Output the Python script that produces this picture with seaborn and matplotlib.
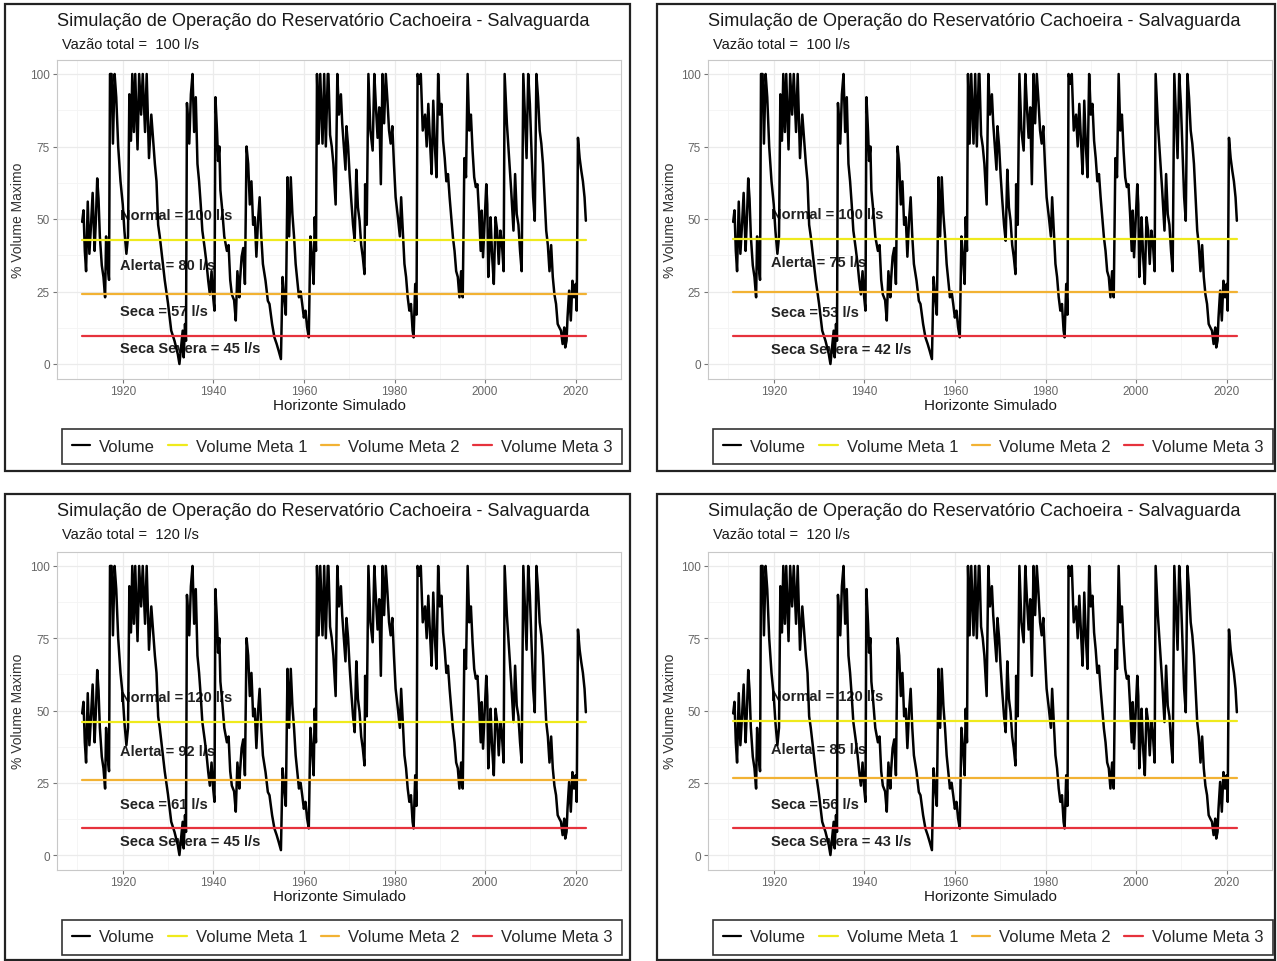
import matplotlib
matplotlib.use("Agg")
import matplotlib.pyplot as plt
from matplotlib.lines import Line2D
from matplotlib.patches import Rectangle
import pandas as pd
import seaborn as sns

# Serie simulada de volume (% do volume maximo)
anos = [
    1911.04, 1911.33, 1911.62, 1911.90, 1912.27, 1912.63, 1912.99, 1913.35, 1913.78, 1914.07,
    1914.36, 1914.65, 1914.94, 1915.37, 1915.74, 1916.10, 1916.32, 1916.68, 1916.97, 1917.18,
    1917.54, 1917.83, 1918.20, 1918.56, 1918.99, 1919.50, 1920.00, 1920.36, 1920.80, 1921.16,
    1921.45, 1921.81, 1922.10, 1922.46, 1922.75, 1923.26, 1923.62, 1924.05, 1924.41, 1924.92,
    1925.28, 1925.79, 1926.30, 1927.09, 1927.45, 1927.81, 1928.17, 1928.53, 1929.26, 1929.98,
    1930.70, 1931.42, 1932.15, 1932.51, 1932.87, 1933.23, 1933.45, 1933.74, 1933.96, 1934.17,
    1934.68, 1935.04, 1935.40, 1935.76, 1936.12, 1936.49, 1936.85, 1937.21, 1937.57, 1938.08,
    1938.51, 1938.87, 1939.23, 1939.60, 1939.96, 1940.25, 1940.46, 1940.82, 1941.04, 1941.33,
    1941.55, 1941.91, 1942.41, 1942.99, 1943.36, 1943.72, 1944.08, 1944.58, 1944.95, 1945.31,
    1945.74, 1945.88, 1946.24, 1946.60, 1946.97, 1947.33, 1947.69, 1948.05, 1948.41, 1948.78,
    1949.14, 1949.50, 1949.86, 1950.22, 1950.58, 1950.94, 1951.52, 1952.03, 1952.39, 1952.97,
    1953.48, 1953.98, 1954.41, 1954.92, 1955.28, 1955.64, 1956.00, 1956.37, 1956.73, 1957.09,
    1957.45, 1957.81, 1958.17, 1958.54, 1958.90, 1959.26, 1959.62, 1959.98, 1960.34, 1960.70,
    1961.07, 1961.43, 1961.79, 1962.15, 1962.37, 1962.66, 1962.88, 1963.24, 1963.60, 1964.10,
    1964.47, 1964.83, 1965.26, 1965.41, 1965.77, 1966.14, 1966.50, 1967.00, 1967.37, 1967.73,
    1968.16, 1968.45, 1968.81, 1969.17, 1969.39, 1969.75, 1970.11, 1970.47, 1970.84, 1971.20,
    1971.56, 1971.92, 1972.28, 1972.64, 1973.00, 1973.37, 1973.51, 1973.87, 1974.23, 1974.67,
    1975.17, 1975.54, 1975.90, 1976.26, 1976.62, 1976.98, 1977.34, 1977.70, 1978.07, 1978.43,
    1978.79, 1979.15, 1979.51, 1979.87, 1980.24, 1980.74, 1981.18, 1981.46, 1981.90, 1982.19,
    1982.55, 1982.91, 1983.27, 1983.63, 1983.99, 1984.21, 1984.57, 1984.85, 1985.08, 1985.51,
    1985.80, 1986.23, 1986.74, 1987.10, 1987.46, 1987.82, 1988.19, 1988.55, 1988.91, 1989.27,
    1989.63, 1989.99, 1990.36, 1990.72, 1991.08, 1991.44, 1991.80, 1992.16, 1992.53, 1992.89,
    1993.25, 1993.61, 1993.97, 1994.33, 1994.70, 1995.06, 1995.42, 1995.78, 1996.14, 1996.50,
    1996.86, 1997.23, 1997.59, 1997.95, 1998.31, 1998.67, 1999.03, 1999.25, 1999.54, 1999.97,
    2000.26, 2000.48, 2000.70, 2000.98, 2001.20, 2001.56, 2001.92, 2002.29, 2002.65, 2003.01,
    2003.37, 2003.73, 2004.09, 2004.31, 2004.81, 2005.18, 2005.75, 2006.26, 2006.62, 2006.98,
    2007.35, 2007.71, 2008.07, 2008.43, 2008.79, 2009.15, 2009.51, 2009.88, 2010.24, 2010.60,
    2010.96, 2011.32, 2011.68, 2012.05, 2012.41, 2012.77, 2013.13, 2013.49, 2013.85, 2014.21,
    2014.58, 2014.94, 2015.30, 2015.66, 2016.02, 2016.38, 2016.75, 2017.11, 2017.47, 2017.69,
    2017.98, 2018.19, 2018.55, 2018.92, 2019.28, 2019.64, 2020.00, 2020.22, 2020.50, 2020.87,
    2021.23, 2021.59, 2021.95, 2022.24,
]
volume = [
    49, 53, 39, 32, 56, 38, 48, 59, 39, 50,
    64, 57, 44, 34, 30, 23, 44, 34, 29, 100,
    100, 76, 100, 92, 75, 63, 55, 46, 38, 44,
    93, 77, 100, 80, 100, 74, 100, 86, 100, 80,
    100, 71, 86, 69, 63, 48, 44, 39, 29, 21,
    11.5, 8, 3.4, 0, 5.7, 11.5, 2.3, 13.8, 8, 90,
    76, 93, 100, 80, 92, 69, 63, 55, 46, 40,
    34.5, 28.7, 24, 32, 23, 18.4, 92, 80, 70, 75,
    60, 54, 44, 39, 41, 29, 24, 22, 15, 32,
    23, 28.7, 37, 40, 27.6, 75, 69, 55, 63, 48,
    50.6, 37, 49.4, 57.5, 44, 34.5, 28.7, 21.8, 20.7, 13.8,
    9.2, 6.9, 4.6, 1.7, 30, 23, 17, 64.4, 44, 64.4,
    51.7, 44, 34.5, 28.7, 23, 25, 20.7, 16, 18.4, 12.6,
    9.2, 44, 36.8, 27.6, 50.6, 39, 100, 76, 100, 76,
    100, 75, 100, 100, 79, 75, 69, 55, 100, 86,
    93, 83, 75, 67, 82, 75, 64.4, 56, 48, 42.5,
    67, 54, 49.4, 41, 36.8, 31, 62, 48, 100, 80.5,
    73.6, 100, 88.5, 78, 88.5, 62, 100, 83, 100, 91,
    80.5, 76, 82, 69, 57.5, 50.6, 44, 57.5, 44, 34.5,
    30, 23, 18.4, 20.7, 11.5, 9.2, 27.6, 17, 100, 96.6,
    100, 80.5, 86, 75, 89.7, 77, 65.5, 90.8, 75, 64.4,
    100, 86, 89.7, 77, 71, 63, 65.5, 57.5, 50.6, 43.7,
    39, 32, 30, 23, 32, 23, 71, 64.4, 100, 80.5,
    86, 73.6, 64.4, 61, 62, 51.7, 39, 52.9, 36.8, 51.7,
    62, 55, 30, 40, 50.6, 36.8, 27.6, 50.6, 46, 34.5,
    46, 41, 32, 100, 82.8, 73.6, 60, 46, 65.5, 51.7,
    48, 39, 32, 100, 85, 71, 100, 89.7, 73.6, 57.5,
    49.4, 100, 92, 80.5, 76, 69, 57.5, 46, 41, 32,
    41, 30, 24, 20.7, 13.8, 12.6, 11.5, 6.9, 12.6, 5.7,
    8, 16, 25.3, 15, 28.7, 23, 27.6, 18.4, 78, 71,
    66.7, 63, 57.5, 49.4,
]

# Cenarios dos quatro graficos
vazao_total = [100, 100, 120, 120]
meta_1 = [42.8, 43.1, 46.0, 46.5]
meta_2 = [24.1, 25.0, 26.0, 26.6]
meta_3 = [9.7, 9.6, 9.3, 9.3]
normal_ls = [100, 100, 120, 120]
alerta_ls = [80, 75, 92, 85]
seca_ls = [57, 53, 61, 56]
severa_ls = [45, 42, 45, 43]

nomes = ["Volume", "Volume Meta 1", "Volume Meta 2", "Volume Meta 3"]
cores = ["black", "#EFEA1C", "#F2B233", "#E6323C"]

sns.set_theme(style="whitegrid")
plt.rcParams["font.family"] = ["Liberation Sans", "DejaVu Sans"]

W, H = 1277, 962
fig = plt.figure(figsize=(W / 100, H / 100), dpi=100)

# posicoes em pixels: (moldura x0, y0, x1, y1), (eixo x0, y0, x1, y1)
layout = [
    ((5, 5, 630, 472), (57, 60.5, 621, 379.5)),
    ((657, 5, 1275, 472), (708, 60.5, 1272, 379.5)),
    ((5, 495, 630, 961), (57, 552.5, 621, 870.5)),
    ((657, 495, 1275, 961), (708, 552.5, 1272, 870.5)),
]

df = pd.DataFrame({"ano": anos, "volume": volume})
span = anos[-1] - anos[0]

for i, (moldura, eixo) in enumerate(layout):
    fx0, fy0, fx1, fy1 = moldura
    ax0, ay0, ax1, ay1 = eixo
    fig.patches.append(Rectangle((fx0 / W, 1 - fy1 / H), (fx1 - fx0) / W, (fy1 - fy0) / H,
                                 transform=fig.transFigure, fill=False, edgecolor="#222222", lw=1.6))
    ax = fig.add_axes([ax0 / W, 1 - ay1 / H, (ax1 - ax0) / W, (ay1 - ay0) / H])

    sns.lineplot(data=df, x="ano", y="volume", ax=ax, color=cores[0], lw=1.8)
    for m, c in zip([meta_1[i], meta_2[i], meta_3[i]], cores[1:]):
        sns.lineplot(x=[anos[0], anos[-1]], y=[m, m], ax=ax, color=c, lw=1.6)

    xt = 1919.3
    kw = dict(ha="left", va="center", fontsize=10.5, fontweight="bold", color="#222222", zorder=1.5)
    ax.text(xt, meta_1[i] + 8.5, f"Normal = {normal_ls[i]} l/s", **kw)
    ax.text(xt, meta_2[i] + 10, f"Alerta = {alerta_ls[i]} l/s", **kw)
    ax.text(xt, meta_3[i] + 8.5, f"Seca = {seca_ls[i]} l/s", **kw)
    ax.text(xt, meta_3[i] - 4.3, f"Seca Severa = {severa_ls[i]} l/s", **kw)

    ax.set_xlim(anos[0] - 0.05 * span, anos[-1] + 0.05 * span)
    ax.set_ylim(-5, 105)
    ax.set_xticks(range(1920, 2021, 20))
    ax.set_xticks(range(1910, 2031, 20), minor=True)
    ax.set_yticks([0, 25, 50, 75, 100])
    ax.set_yticks([12.5, 37.5, 62.5, 87.5], minor=True)
    ax.grid(True, which="major", color="#EBEBEB", lw=0.9)
    ax.grid(True, which="minor", color="#F4F4F4", lw=0.6)
    ax.tick_params(which="major", length=3, width=0.8, color="#777777",
                   labelsize=8.5, labelcolor="#666666", pad=2, bottom=True, left=True)
    ax.tick_params(which="minor", length=0)
    for s in ax.spines.values():
        s.set_color("#C8C8C8")
        s.set_linewidth(0.8)
    ax.set_xlabel("")
    ax.set_ylabel("")

    # titulos e rotulos
    fig.text(ax0 / W, 1 - (fy0 + 17) / H, "Simulação de Operação do Reservatório Cachoeira - Salvaguarda",
             ha="left", va="center", fontsize=13.1, color="#1a1a1a")
    fig.text((ax0 + 5) / W, 1 - (fy0 + 40) / H, f"Vazão total =  {vazao_total[i]} l/s",
             ha="left", va="center", fontsize=10.5, color="#1a1a1a")
    fig.text((ax0 + ax1) / 2 / W, 1 - (ay1 + 26.5) / H, "Horizonte Simulado",
             ha="center", va="center", fontsize=11, color="#1a1a1a")
    fig.text((fx0 + 13) / W, 1 - (ay0 + ay1) / 2 / H, "% Volume Maximo", rotation=90,
             ha="center", va="center", fontsize=10, color="#333333")

    handles = [Line2D([], [], color=c, lw=1.6) for c in cores]
    leg = fig.legend(handles, nomes, loc="center",
                     bbox_to_anchor=((ax0 + ax1) / 2 / W + 3 / W, 1 - (ay1 + 67.5) / H),
                     ncol=4, frameon=True, fancybox=False, edgecolor="black", fontsize=12,
                     handlelength=1.1, handletextpad=0.55, columnspacing=0.8, borderpad=0.6)
    leg.get_frame().set_linewidth(1.2)
    leg.get_frame().set_facecolor("white")

fig.savefig("out.png", dpi=100, facecolor="white")
